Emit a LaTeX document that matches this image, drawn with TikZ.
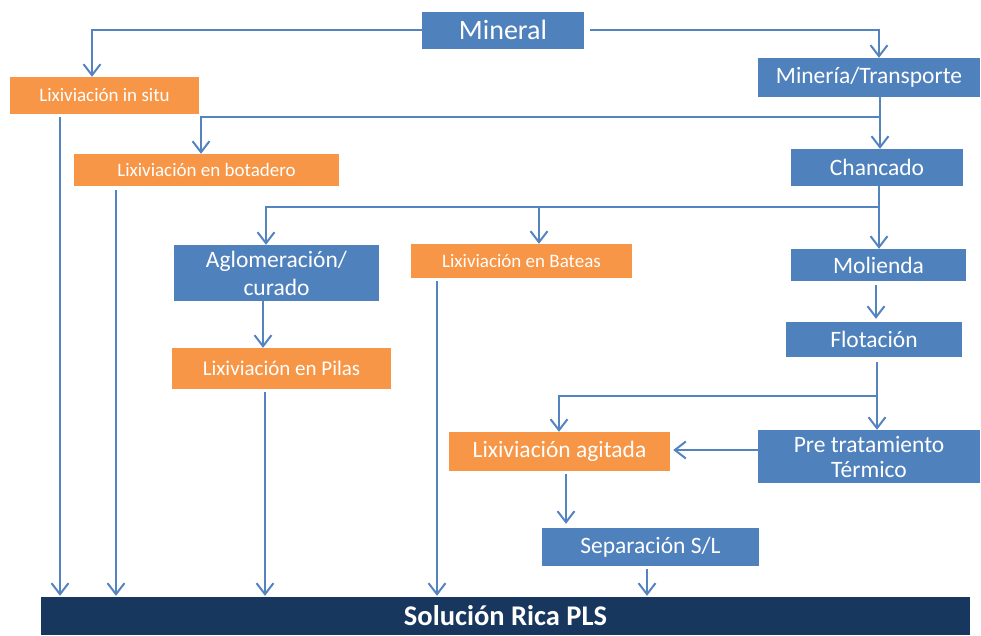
\documentclass[tikz,border=0pt]{standalone}
\usepackage{fontspec}
\setmainfont{Carlito}
\usetikzlibrary{arrows.meta}
\definecolor{boxblue}{RGB}{79,129,189}
\definecolor{boxorange}{RGB}{247,150,70}
\definecolor{plsnavy}{RGB}{24,55,94}
\definecolor{lineblue}{RGB}{84,132,192}

\begin{document}
\begin{tikzpicture}[x=1pt,y=-1pt,
  blbox/.style={fill=boxblue,text=white,inner sep=0pt,align=center,font=\fontsize{23.5}{26}\selectfont},
  orbox/.style={fill=boxorange,text=white,inner sep=0pt,align=center,font=\fontsize{19}{22}\selectfont},
  flow/.style={draw=lineblue,line width=2pt,-{Straight Barb[length=11pt,width=17pt]}}]
\useasboundingbox (0,0) rectangle (981,635);
\node[blbox,minimum width=162,minimum height=37,font=\fontsize{28}{30}\selectfont] (mineral) at (503,30) {Mineral};
\node[orbox,minimum width=189,minimum height=37] (insitu) at (104.5,95.5) {Lixiviación in situ};
\node[blbox,minimum width=222,minimum height=39] (mineria) at (869,77.5) {Minería/Transporte};
\node[orbox,minimum width=265,minimum height=32] (botadero) at (206.5,170) {Lixiviación en botadero};
\node[blbox,minimum width=172,minimum height=37] (chancado) at (877,167.5) {Chancado};
\node[blbox,minimum width=205,minimum height=56,font=\fontsize{23.5}{28}\selectfont] (aglo) at (276.5,273) {Aglomeración/\\curado};
\node[orbox,minimum width=221,minimum height=34] (bateas) at (521.5,261) {Lixiviación en Bateas};
\node[blbox,minimum width=175,minimum height=32] (molienda) at (878.5,265) {Molienda};
\node[orbox,minimum width=219,minimum height=41,font=\fontsize{21}{24}\selectfont] (pilas) at (281.5,368.5) {Lixiviación en Pilas};
\node[blbox,minimum width=176,minimum height=35] (flotacion) at (874,339.5) {Flotación};
\node[blbox,minimum width=222,minimum height=53,font=\fontsize{23.5}{25}\selectfont] (pretrat) at (869,456.5) {Pre tratamiento\\Térmico};
\node[orbox,minimum width=221,minimum height=39,font=\fontsize{23.5}{26}\selectfont] (agitada) at (559.5,451.5) {Lixiviación agitada};
\node[blbox,minimum width=217,minimum height=38] (separacion) at (650.5,547) {Separación S/L};
\node[fill=plsnavy,text=white,inner sep=0pt,minimum width=929,minimum height=38,font=\fontsize{28.5}{30}\selectfont\bfseries] (pls) at (505.5,616) {Solución Rica PLS};
\coordinate (ja) at (880,117);
\coordinate (jb) at (879,207);
\coordinate (jc) at (877,396);
\draw[flow] (mineral.west) -| (92,0 |- insitu.north);
\draw[flow] ([xshift=6]mineral.east) -| (879,0 |- mineria.north);
\draw[flow] (880,0 |- mineria.south) -- (880,0 |- chancado.north);
\draw[flow] (ja) -| (201,0 |- botadero.north);
\draw[flow] (879,0 |- chancado.south) -- (879,0 |- molienda.north);
\draw[flow] (jb) -| (266,0 |- aglo.north);
\draw[flow] (539,0 |- jb) -- (539,0 |- bateas.north);
\draw[flow] (263,0 |- aglo.south) -- (263,0 |- pilas.north);
\draw[flow,shorten <=4,shorten >=3] (876,0 |- molienda.south) -- (876,0 |- flotacion.north);
\draw[flow,shorten <=5] (877,0 |- flotacion.south) -- (877,0 |- pretrat.north);
\draw[flow] (jc) -| (559,0 |- agitada.north);
\draw[flow,shorten >=3] (pretrat.west |- 0,450) -- (agitada.east |- 0,450);
\draw[flow,shorten <=3,shorten >=4] (566,0 |- agitada.south) -- (566,0 |- separacion.north);
\draw[flow,shorten <=3,shorten >=1] (647,0 |- separacion.south) -- (647,0 |- pls.north);
\draw[flow,shorten <=3,shorten >=1] (60,0 |- insitu.south) -- (60,0 |- pls.north);
\draw[flow,shorten <=4,shorten >=1] (116,0 |- botadero.south) -- (116,0 |- pls.north);
\draw[flow,shorten <=3,shorten >=1] (265,0 |- pilas.south) -- (265,0 |- pls.north);
\draw[flow,shorten <=3,shorten >=1] (437,0 |- bateas.south) -- (437,0 |- pls.north);
\end{tikzpicture}
\end{document}
